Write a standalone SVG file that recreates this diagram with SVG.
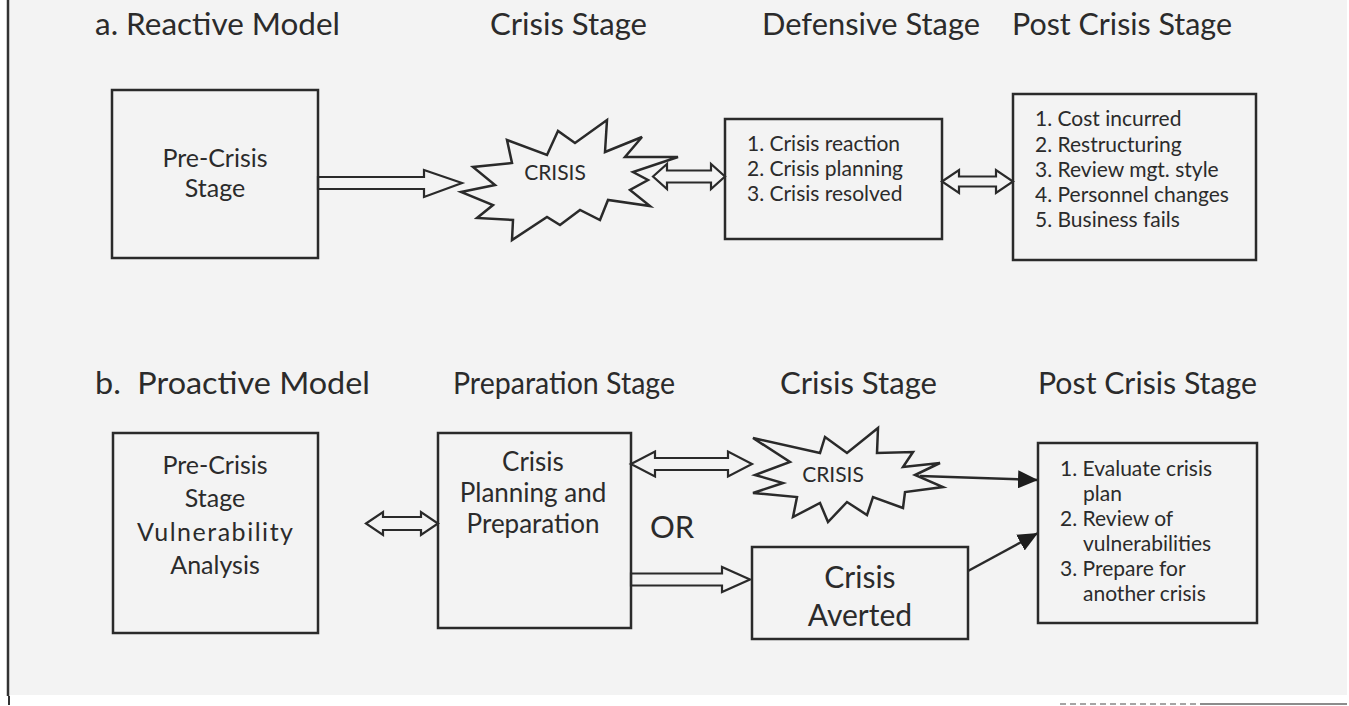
<svg xmlns="http://www.w3.org/2000/svg" width="1349" height="706" viewBox="0 0 1349 706">
<style>
text{font-family:Lato,"Open Sans","Liberation Sans",sans-serif;fill:#2b2b2b}
.title{font-size:30px}
.box{fill:none;stroke:#2a2a2a;stroke-width:2.5}
.burst{fill:none;stroke:#2a2a2a;stroke-width:2.5;stroke-linejoin:miter}
.hollow{fill:#f3f3f3;stroke:#2a2a2a;stroke-width:2.2;stroke-linejoin:miter}
.solid{fill:none;stroke:#2a2a2a;stroke-width:2.5}
.list{font-size:21px}
.mid{text-anchor:middle}
</style>
<defs>
<marker id="ah" markerUnits="userSpaceOnUse" markerWidth="22" markerHeight="18" refX="20" refY="9" orient="auto">
<path d="M0,0 L20,9 L0,18 z" fill="#1e1e1e"/>
</marker>
</defs>
<rect x="0" y="0" width="1349" height="706" fill="#ffffff"/>
<rect x="8" y="0" width="1339" height="695" fill="#f3f3f3"/>
<line x1="8" y1="0" x2="8" y2="696" stroke="#333" stroke-width="2.5"/>
<line x1="9" y1="696" x2="9" y2="705" stroke="#333" stroke-width="2"/>
<line x1="1060" y1="704" x2="1200" y2="704" stroke="#888" stroke-width="1.5" stroke-dasharray="6 4"/>
<line x1="1200" y1="704" x2="1347" y2="704" stroke="#666" stroke-width="1.5"/>

<g id="titles">
<text class="title" x="95" y="35" textLength="245" lengthAdjust="spacingAndGlyphs">a. Reactive Model</text>
<text class="title" x="490" y="35" textLength="157" lengthAdjust="spacingAndGlyphs">Crisis Stage</text>
<text class="title" x="762" y="35" textLength="218" lengthAdjust="spacingAndGlyphs">Defensive Stage</text>
<text class="title" x="1012" y="35" textLength="220" lengthAdjust="spacingAndGlyphs">Post Crisis Stage</text>
<text class="title" x="95" y="394" xml:space="preserve" textLength="275" lengthAdjust="spacingAndGlyphs">b.  Proactive Model</text>
<text class="title" x="453" y="394" textLength="222" lengthAdjust="spacingAndGlyphs">Preparation Stage</text>
<text class="title" x="780" y="394" textLength="157" lengthAdjust="spacingAndGlyphs">Crisis Stage</text>
<text class="title" x="1038" y="394" textLength="219" lengthAdjust="spacingAndGlyphs">Post Crisis Stage</text>
</g>

<g id="connectors">
<polygon class="hollow" points="318,177 424,177 424,170 462,183 424,197 424,189 318,189"/>
<polygon class="hollow" points="653,176.5 667,164 667,170.5 711,170.5 711,164 725,176.5 711,189 711,182.5 667,182.5 667,189"/>
<polygon class="hollow" points="942,181.5 959,170 959,176.5 996,176.5 996,170 1013,181.5 996,193 996,186.5 959,186.5 959,193"/>
<polygon class="hollow" points="366,523.5 383,512 383,517 421,517 421,512 438,523.5 421,535 421,530 383,530 383,535"/>
<polygon class="hollow" points="631,464 655,451.5 655,458 728,458 728,451.5 752,464 728,476.5 728,470 655,470 655,476.5"/>
<polygon class="hollow" points="631,573.5 722,573.5 722,567 750,579.5 722,592 722,585.5 631,585.5"/>
<line class="solid" x1="920" y1="476" x2="1038" y2="480" marker-end="url(#ah)"/>
<line class="solid" x1="968" y1="571" x2="1038" y2="533" marker-end="url(#ah)"/>
</g>

<g id="a-precrisis">
<rect class="box" x="112" y="90" width="206" height="168"/>
<text class="mid" x="215" y="167" font-size="25">Pre-Crisis</text>
<text class="mid" x="215" y="197" font-size="25">Stage</text>
</g>

<g id="a-crisis">
<polygon class="burst" points="461,192 495,185 473,167 512,163 507,140 547,155 558,131 575,143 607,120 605,152 642,137 625,157 678,157 633,172 648,180 630,190 650,206 608,200 600,220 580,210 560,225 547,217 512,240 513,220 477,218 493,205"/>
<text class="mid" x="555" y="180" font-size="21">CRISIS</text>
</g>

<g id="a-defensive">
<rect class="box" x="725" y="119" width="217" height="120"/>
<text class="list" x="747" y="151">1. Crisis reaction</text>
<text class="list" x="747" y="176">2. Crisis planning</text>
<text class="list" x="747" y="201">3. Crisis resolved</text>
</g>

<g id="a-post">
<rect class="box" x="1013" y="94" width="243" height="166"/>
<text class="list" x="1035" y="126">1. Cost incurred</text>
<text class="list" x="1035" y="152">2. Restructuring</text>
<text class="list" x="1035" y="177">3. Review mgt. style</text>
<text class="list" x="1035" y="202">4. Personnel changes</text>
<text class="list" x="1035" y="227">5. Business fails</text>
</g>

<g id="b-precrisis">
<rect class="box" x="113" y="433" width="205" height="200"/>
<text class="mid" x="215" y="474" font-size="25">Pre-Crisis</text>
<text class="mid" x="215" y="507" font-size="25">Stage</text>
<text class="mid" x="215" y="541" font-size="25" textLength="156" lengthAdjust="spacing">Vulnerability</text>
<text class="mid" x="215" y="574" font-size="25">Analysis</text>
</g>

<g id="b-preparation">
<rect class="box" x="438" y="433" width="193" height="195"/>
<text class="mid" x="533" y="471" font-size="26">Crisis</text>
<text class="mid" x="533" y="502" font-size="26">Planning and</text>
<text class="mid" x="533" y="533" font-size="26">Preparation</text>
</g>

<g id="b-or">
<text x="650" y="538" font-size="31">OR</text>
</g>

<g id="b-crisis">
<polygon class="burst" points="753,438 820,453 825,437 847,453 878,428 877,453 913,452 903,467 940,463 915,475 943,487 905,492 903,508 873,497 867,515 847,502 828,522 820,503 793,517 797,497 753,493 783,483 755,475 790,462"/>
<text class="mid" x="833" y="481.5" font-size="21">CRISIS</text>
</g>

<g id="b-averted">
<rect class="box" x="752" y="547" width="216" height="92"/>
<text class="mid" x="860" y="588" font-size="30">Crisis</text>
<text class="mid" x="860" y="626" font-size="30">Averted</text>
</g>

<g id="b-post">
<rect class="box" x="1038" y="443" width="219" height="180"/>
<text class="list" x="1060" y="476">1. Evaluate crisis</text>
<text class="list" x="1083" y="501">plan</text>
<text class="list" x="1060" y="526">2. Review of</text>
<text class="list" x="1083" y="551">vulnerabilities</text>
<text class="list" x="1060" y="576">3. Prepare for</text>
<text class="list" x="1083" y="601">another crisis</text>
</g>
</svg>
